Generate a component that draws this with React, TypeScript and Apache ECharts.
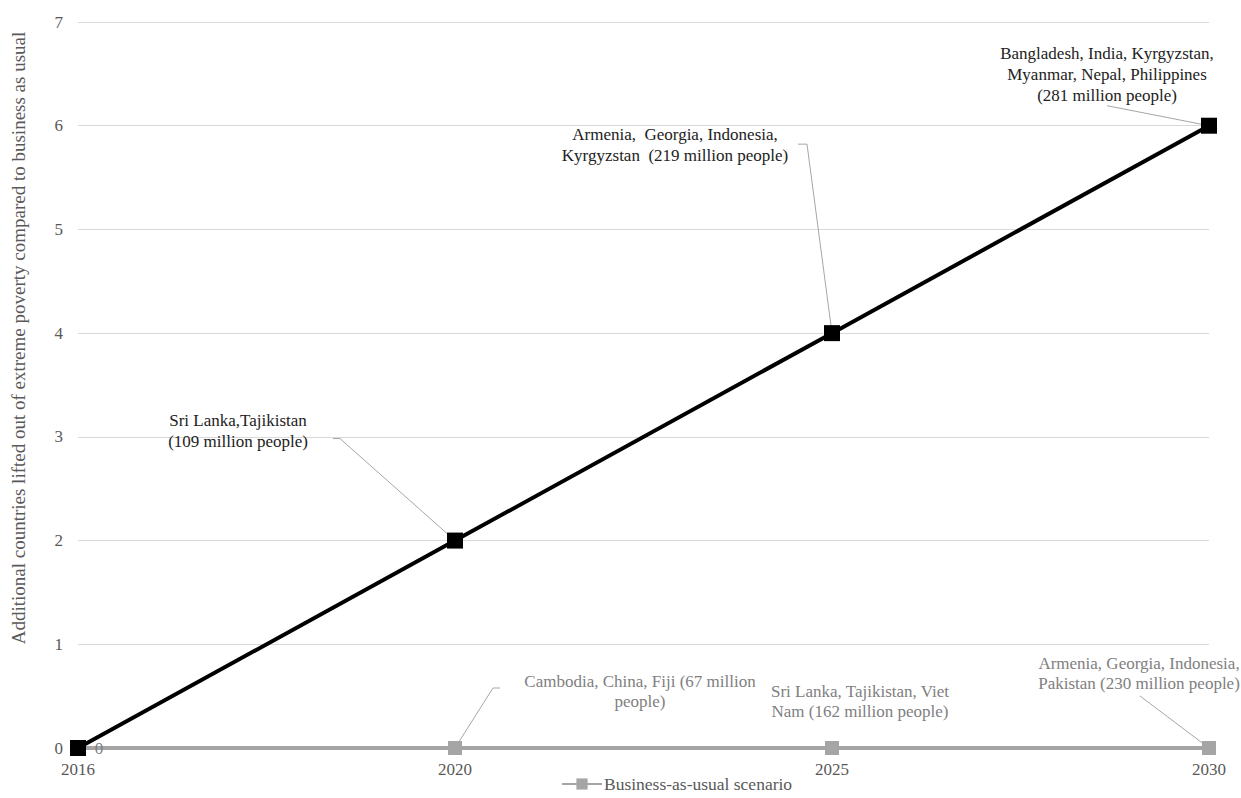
import React, { useEffect, useRef } from "react";
import * as echarts from "echarts";

const years = ["2016", "2020", "2025", "2030"];
const scenarioValues = [0, 2, 4, 6];
const bauValues = [0, 0, 0, 0];
const scenarioLabels = [
  "",
  "Sri Lanka,Tajikistan\n(109 million people)",
  "Armenia,  Georgia, Indonesia,\nKyrgyzstan  (219 million people)",
  "Bangladesh, India, Kyrgyzstan,\nMyanmar, Nepal, Philippines\n(281 million people)",
];
const bauLabels = [
  "0",
  "Cambodia, China, Fiji (67 million\npeople)",
  "Sri Lanka, Tajikistan, Viet\nNam (162 million people)",
  "Armenia, Georgia, Indonesia,\nPakistan (230 million people)",
];
const bauName = "Business-as-usual scenario";
const yAxisTitle =
  "Additional countries lifted out of extreme poverty compared to business as usual";

// label centre offsets relative to the data point (pixels)
const scenarioOffsets = [
  [0, 0],
  [-217, -110],
  [-157, -188],
  [-102, -51],
];
const bauOffsets = [
  [21, 0],
  [185, -57],
  [28, -47],
  [-70, -75],
];
// leader line: [bend point, label end] relative to the data point
const scenarioLeaders: (number[][] | null)[] = [
  null,
  [[-115, -102], [-122, -102]],
  [[-25, -189], [-34, -189]],
  [[-102, -20], [-102, -20]],
];
const bauLeaders: (number[][] | null)[] = [
  null,
  [[38, -60], [45, -60]],
  null,
  [[-69, -52], [-69, -52]],
];

const FONT = "Liberation Serif, serif";

export default function App() {
  const ref = useRef<HTMLDivElement>(null);
  useEffect(() => {
    if (!ref.current) return;
    const chart = echarts.init(ref.current, null, { renderer: "svg" });
    const mkLayout = (offs: number[][]) => (p: any) => {
      const o = offs[p.dataIndex];
      const cx = p.rect.x + p.rect.width / 2;
      const cy = p.rect.y + p.rect.height / 2;
      return {
        x: cx + o[0],
        y: cy + o[1],
        align: "center",
        verticalAlign: "middle",
      };
    };
    chart.setOption({
      animation: false,
      textStyle: { fontFamily: FONT },
      grid: { left: 78, right: 32, top: 22, bottom: 50, containLabel: false },
      legend: {
        data: [bauName],
        bottom: 0,
        left: 556,
        itemWidth: 40,
        itemHeight: 14,
        itemGap: 4,
        textStyle: { fontFamily: FONT, fontSize: 17.5, color: "#595959", padding: [0, 0, 0, -3] },
      },
      xAxis: {
        type: "category",
        data: years,
        boundaryGap: false,
        axisLine: { lineStyle: { color: "#d9d9d9" } },
        axisTick: { show: false },
        axisLabel: { color: "#595959", fontSize: 17, fontFamily: FONT, margin: 13 },
      },
      yAxis: {
        type: "value",
        min: 0,
        max: 7,
        interval: 1,
        axisLine: { show: false },
        axisTick: { show: false },
        axisLabel: { color: "#595959", fontSize: 17, fontFamily: FONT, margin: 15 },
        splitLine: { lineStyle: { color: "#d9d9d9", width: 1 } },
      },
      series: [
        {
          name: bauName,
          type: "line",
          data: bauValues.map((v, i) => ({
            value: v,
            label: { formatter: bauLabels[i] },
          })),
          symbol: "rect",
          symbolSize: 14,
          itemStyle: { color: "#a5a5a5" },
          lineStyle: { color: "#a5a5a5", width: 4 },
          z: 2,
          label: {
            show: true,
            fontFamily: FONT,
            fontSize: 17,
            lineHeight: 20,
            color: "#808080",
          },
          labelLayout: mkLayout(bauOffsets),
        },
        {
          name: "Scenario",
          type: "line",
          data: scenarioValues.map((v, i) => ({
            value: v,
            label: { show: i > 0, formatter: scenarioLabels[i] },
          })),
          symbol: "rect",
          symbolSize: 16,
          itemStyle: { color: "#000000" },
          lineStyle: { color: "#000000", width: 4 },
          z: 3,
          label: {
            show: true,
            fontFamily: FONT,
            fontSize: 17,
            lineHeight: 21,
            color: "#222222",
          },
          labelLayout: mkLayout(scenarioOffsets),
        },
      ],
    });

    const graphics: any[] = [
      {
        type: "text",
        x: 18,
        y: 338,
        rotation: Math.PI / 2,
        style: {
          text: yAxisTitle,
          font: "19px Liberation Serif, serif",
          fill: "#595959",
          textAlign: "center",
          textVerticalAlign: "middle",
        },
      },
    ];
    const addLeaders = (values: number[], leaders: (number[][] | null)[]) => {
      values.forEach((v, i) => {
        const l = leaders[i];
        if (!l) return;
        const p = chart.convertToPixel({ xAxisIndex: 0, yAxisIndex: 0 }, [i, v]) as number[];
        graphics.push({
          type: "polyline",
          z: 1,
          silent: true,
          shape: {
            points: [
              [p[0], p[1]],
              [p[0] + l[0][0], p[1] + l[0][1]],
              [p[0] + l[1][0], p[1] + l[1][1]],
            ],
          },
          style: { stroke: "#a6a6a6", lineWidth: 1, fill: "none" },
        });
      });
    };
    addLeaders(scenarioValues, scenarioLeaders);
    addLeaders(bauValues, bauLeaders);
    chart.setOption({ graphic: graphics });
    return () => chart.dispose();
  }, []);
  return (
    <div
      ref={ref}
      style={{ position: "fixed", left: 0, top: 0, width: 1241, height: 798, background: "#fff" }}
    />
  );
}
